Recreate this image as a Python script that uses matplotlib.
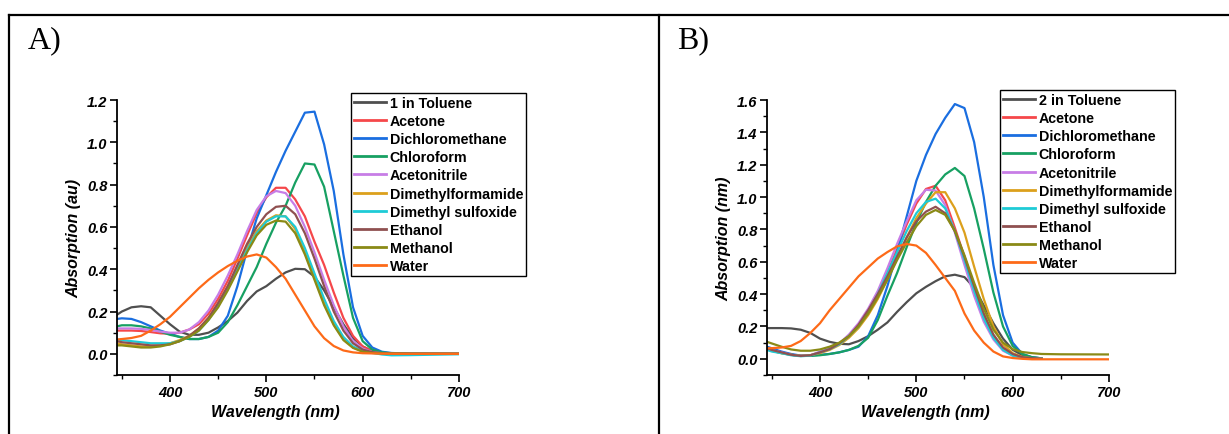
import matplotlib
matplotlib.use("Agg")
import matplotlib.pyplot as plt
from matplotlib.lines import Line2D
from matplotlib.ticker import MultipleLocator, FormatStrFormatter
from matplotlib.font_manager import FontProperties

plt.rcParams['font.family'] = ['Liberation Sans', 'DejaVu Sans']

# ---------------- data ----------------
wavelength = [345, 350, 360, 370, 380, 390, 400, 410, 420, 430, 440, 450, 460, 470,
              480, 490, 500, 510, 520, 530, 540, 550, 560, 570, 580, 590, 600, 610,
              620, 630, 650, 700]

labels_a = ["1 in Toluene", "Acetone", "Dichloromethane", "Chloroform", "Acetonitrile",
            "Dimethylformamide", "Dimethyl sulfoxide", "Ethanol", "Methanol", "Water"]
labels_b = ["2 in Toluene", "Acetone", "Dichloromethane", "Chloroform", "Acetonitrile",
            "Dimethylformamide", "Dimethyl sulfoxide", "Ethanol", "Methanol", "Water"]

colors = ["#4f4f4f", "#f5474a", "#1a6ee0", "#17a062", "#c77de6",
          "#dca01c", "#1ecbd6", "#8f5050", "#8a8a16", "#fd6a18"]

# Panel A
a_toluene = [0.185, 0.20, 0.22, 0.225, 0.22, 0.18, 0.14, 0.105, 0.09, 0.09, 0.10, 0.125, 0.155, 0.195,
             0.25, 0.295, 0.32, 0.355, 0.385, 0.402, 0.40, 0.365, 0.30, 0.22, 0.14, 0.075, 0.035, 0.013,
             0.005, 0.002, 0.0, 0.0]
a_acetone = [0.11, 0.11, 0.11, 0.108, 0.103, 0.097, 0.095, 0.10, 0.115, 0.14, 0.19, 0.26, 0.345, 0.45,
             0.56, 0.665, 0.74, 0.785, 0.785, 0.73, 0.65, 0.53, 0.42, 0.29, 0.17, 0.085, 0.035, 0.012,
             0.005, 0.002, 0.0, 0.0]
a_dcm = [0.165, 0.168, 0.165, 0.15, 0.13, 0.11, 0.095, 0.08, 0.07, 0.07, 0.08, 0.11, 0.18, 0.32,
         0.49, 0.64, 0.75, 0.86, 0.96, 1.05, 1.14, 1.145, 0.99, 0.77, 0.47, 0.22, 0.085, 0.03,
         0.01, 0.004, 0.001, 0.0]
a_chloroform = [0.13, 0.135, 0.135, 0.13, 0.12, 0.105, 0.09, 0.08, 0.07, 0.07, 0.08, 0.10, 0.15, 0.23,
                0.32, 0.41, 0.52, 0.62, 0.70, 0.81, 0.90, 0.895, 0.79, 0.58, 0.37, 0.17, 0.06, 0.02,
                0.007, 0.003, 0.001, 0.0]
a_acetonitrile = [0.12, 0.12, 0.12, 0.118, 0.113, 0.105, 0.10, 0.10, 0.115, 0.15, 0.205, 0.28, 0.37, 0.47,
                  0.58, 0.68, 0.745, 0.77, 0.76, 0.70, 0.60, 0.48, 0.35, 0.23, 0.13, 0.06, 0.025, 0.008,
                  0.003, 0.001, 0.0, 0.0]
a_dmf = [0.05, 0.045, 0.04, 0.035, 0.035, 0.04, 0.05, 0.065, 0.085, 0.12, 0.17, 0.24, 0.32, 0.41,
         0.50, 0.58, 0.63, 0.655, 0.65, 0.59, 0.48, 0.36, 0.24, 0.14, 0.07, 0.03, 0.012, 0.005,
         0.002, 0.001, 0.0, 0.0]
a_dmso = [0.065, 0.065, 0.06, 0.055, 0.05, 0.05, 0.05, 0.06, 0.08, 0.11, 0.16, 0.23, 0.31, 0.40,
          0.49, 0.57, 0.625, 0.65, 0.65, 0.60, 0.50, 0.38, 0.26, 0.155, 0.08, 0.035, 0.014, 0.005,
          -0.003, -0.007, -0.006, -0.002]
a_ethanol = [0.06, 0.055, 0.05, 0.045, 0.04, 0.04, 0.045, 0.06, 0.085, 0.12, 0.17, 0.24, 0.32, 0.42,
             0.52, 0.60, 0.66, 0.695, 0.70, 0.66, 0.57, 0.45, 0.32, 0.20, 0.11, 0.05, 0.02, 0.008,
             0.003, 0.001, 0.0, 0.0]
a_methanol = [0.04, 0.04, 0.035, 0.03, 0.03, 0.035, 0.045, 0.06, 0.08, 0.11, 0.16, 0.22, 0.30, 0.39,
              0.48, 0.56, 0.61, 0.63, 0.625, 0.57, 0.47, 0.35, 0.23, 0.135, 0.065, 0.028, 0.01, 0.004,
              0.002, 0.001, 0.0, 0.0]
a_water = [0.068, 0.07, 0.075, 0.085, 0.11, 0.14, 0.175, 0.22, 0.265, 0.31, 0.35, 0.385, 0.415, 0.44,
           0.46, 0.47, 0.455, 0.41, 0.355, 0.28, 0.205, 0.13, 0.074, 0.037, 0.016, 0.007, 0.003, 0.002,
           0.001, 0.0, 0.0, 0.0]

# Panel B (most series recorded up to 630 nm)
b_toluene = [0.19, 0.19, 0.19, 0.188, 0.18, 0.16, 0.125, 0.105, 0.093, 0.09, 0.11, 0.14, 0.18, 0.225,
             0.29, 0.35, 0.405, 0.445, 0.48, 0.51, 0.52, 0.505, 0.44, 0.33, 0.22, 0.125, 0.056, 0.022,
             0.008, 0.003]
b_acetone = [0.07, 0.06, 0.04, 0.025, 0.018, 0.022, 0.04, 0.062, 0.09, 0.14, 0.21, 0.29, 0.40, 0.53,
             0.68, 0.83, 0.96, 1.05, 1.07, 0.98, 0.81, 0.63, 0.44, 0.27, 0.14, 0.06, 0.025, 0.008,
             0.003, 0.001]
b_dcm = [0.075, 0.065, 0.045, 0.03, 0.02, 0.02, 0.025, 0.03, 0.04, 0.055, 0.075, 0.14, 0.27, 0.45,
         0.66, 0.88, 1.10, 1.26, 1.39, 1.49, 1.575, 1.55, 1.34, 1.00, 0.58, 0.27, 0.10, 0.03,
         0.01, 0.003]
b_chloroform = [0.06, 0.05, 0.035, 0.025, 0.018, 0.018, 0.022, 0.03, 0.04, 0.055, 0.08, 0.13, 0.24, 0.39,
                0.53, 0.69, 0.84, 0.97, 1.07, 1.14, 1.18, 1.13, 0.93, 0.68, 0.41, 0.20, 0.08, 0.03,
                0.01, 0.003]
b_acetonitrile = [0.065, 0.055, 0.04, 0.025, 0.018, 0.022, 0.045, 0.065, 0.095, 0.15, 0.22, 0.31, 0.42, 0.56,
                  0.71, 0.85, 0.98, 1.045, 1.04, 0.95, 0.78, 0.58, 0.39, 0.23, 0.12, 0.05, 0.02, 0.007,
                  0.002, 0.001]
b_dmf = [0.06, 0.05, 0.035, 0.025, 0.018, 0.022, 0.035, 0.055, 0.085, 0.13, 0.19, 0.27, 0.37, 0.49,
         0.62, 0.75, 0.87, 0.96, 1.03, 1.03, 0.93, 0.78, 0.57, 0.37, 0.20, 0.09, 0.035, 0.012,
         0.004, 0.001]
b_dmso = [0.055, 0.045, 0.035, 0.022, 0.016, 0.02, 0.04, 0.06, 0.09, 0.14, 0.20, 0.29, 0.40, 0.53,
          0.66, 0.79, 0.90, 0.97, 0.99, 0.93, 0.79, 0.61, 0.42, 0.25, 0.13, 0.055, 0.02, 0.007,
          0.002, 0.001]
b_ethanol = [0.065, 0.055, 0.04, 0.025, 0.018, 0.022, 0.04, 0.06, 0.095, 0.14, 0.21, 0.30, 0.40, 0.51,
             0.63, 0.75, 0.85, 0.91, 0.94, 0.90, 0.79, 0.63, 0.45, 0.28, 0.15, 0.07, 0.03, 0.01,
             0.004, 0.001]
b_methanol = [0.105, 0.095, 0.075, 0.058, 0.05, 0.05, 0.058, 0.075, 0.10, 0.14, 0.20, 0.28, 0.38, 0.49,
              0.61, 0.72, 0.82, 0.89, 0.92, 0.89, 0.79, 0.64, 0.47, 0.31, 0.18, 0.10, 0.06, 0.042,
              0.035, 0.03, 0.028, 0.027]
b_water = [0.066, 0.066, 0.07, 0.08, 0.11, 0.16, 0.22, 0.30, 0.37, 0.44, 0.51, 0.565, 0.62, 0.66,
           0.695, 0.71, 0.70, 0.655, 0.58, 0.50, 0.42, 0.28, 0.175, 0.10, 0.045, 0.015, 0.005, 0.0,
           -0.003, -0.003, -0.003, -0.003]

series_a = [a_toluene, a_acetone, a_dcm, a_chloroform, a_acetonitrile,
            a_dmf, a_dmso, a_ethanol, a_methanol, a_water]
series_b = [b_toluene, b_acetone, b_dcm, b_chloroform, b_acetonitrile,
            b_dmf, b_dmso, b_ethanol, b_methanol, b_water]

# ---------------- figure ----------------
W, H = 1229, 435
fig = plt.figure(figsize=(W / 100, H / 100), dpi=100)


def px_rect(x0, y0, x1, y1):
    return [x0 / W, 1 - y1 / H, (x1 - x0) / W, (y1 - y0) / H]


tick_font = dict(family='Liberation Sans', weight='bold', style='italic', size=10.5)
label_font = dict(family='Liberation Sans', weight='bold', style='italic', size=11.5)


def make_panel(rect, series, labels, ymax, ylabel, leg_anchor):
    ax = fig.add_axes(rect)
    for vals, lab, col in zip(series, labels, colors):
        ax.plot(wavelength[:len(vals)], vals, color=col, lw=1.6, label=lab,
                solid_joinstyle='round')
    ax.set_xlim(345, 700)
    ax.set_ylim(-0.1, ymax)
    for s in ['top', 'right']:
        ax.spines[s].set_visible(False)
    for s in ['left', 'bottom']:
        ax.spines[s].set_linewidth(1.3)
    ax.xaxis.set_major_locator(MultipleLocator(100))
    ax.xaxis.set_minor_locator(MultipleLocator(50))
    ax.yaxis.set_minor_locator(MultipleLocator(0.1))
    ax.set_yticks([t / 10 for t in range(0, int(round(ymax * 10)) + 1, 2)])
    ax.yaxis.set_major_formatter(FormatStrFormatter('%.1f'))
    ax.tick_params(which='major', direction='out', length=5, width=1.2, pad=2)
    ax.tick_params(which='minor', direction='out', length=3, width=1.0)
    for lbl in ax.get_xticklabels() + ax.get_yticklabels():
        lbl.set_fontproperties(FontProperties(**tick_font))
    ax.set_xlabel("Wavelength (nm)", fontdict=label_font)
    ax.set_ylabel(ylabel, fontdict=label_font, labelpad=4)
    ax.xaxis.set_label_coords(0.463, -0.105)
    leg = ax.legend(loc='upper left', bbox_to_anchor=leg_anchor, borderaxespad=0,
                    frameon=True, fancybox=False, edgecolor='black', framealpha=1,
                    prop=dict(family='Liberation Sans', weight='bold', size=10.3),
                    handlelength=2.2, handletextpad=0.3, labelspacing=0.285,
                    borderpad=0.22)
    leg.get_frame().set_linewidth(1.0)
    for ln in leg.get_lines():
        ln.set_linewidth(2.0)
    return ax


ax_a = make_panel(px_rect(117, 101, 459, 376), series_a, labels_a, 1.2,
                  "Absorption (au)", (0.684, 1.0255))
ax_b = make_panel(px_rect(767, 101, 1109, 376), series_b, labels_b, 1.6,
                  "Absorption (nm)", (0.681, 1.036))

# panel frames
frame_kw = dict(color='black', lw=1.6, transform=fig.transFigure)
fig.add_artist(Line2D([9 / W, 1.0], [1 - 16 / H, 1 - 16 / H], **frame_kw))
fig.add_artist(Line2D([9 / W, 9 / W], [0, 1 - 16 / H], **frame_kw))
fig.add_artist(Line2D([659 / W, 659 / W], [0, 1 - 16 / H], **frame_kw))

fig.text(28 / W, 1 - 26 / H, "A)", family='Liberation Serif', size=23, va='top', ha='left')
fig.text(677 / W, 1 - 26 / H, "B)", family='Liberation Serif', size=23, va='top', ha='left')

fig.savefig("out.png", dpi=100)
